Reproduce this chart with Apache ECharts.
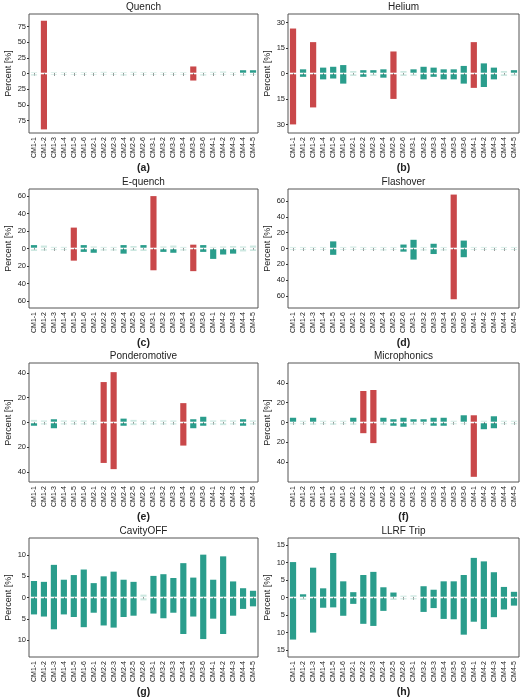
<!DOCTYPE html>
<html><head><meta charset="utf-8">
<script src="https://cdn.jsdelivr.net/npm/echarts@6/dist/echarts.min.js"></script>
<style>html,body{margin:0;padding:0;background:#fff}#c{width:524px;height:700px}</style>
</head><body><div id="c"></div>
<script>
const categories=['CM1-1','CM1-2','CM1-3','CM1-4','CM1-5','CM1-6','CM2-1','CM2-2','CM2-3','CM2-4','CM2-5','CM2-6','CM3-1','CM3-2','CM3-3','CM3-4','CM3-5','CM3-6','CM4-1','CM4-2','CM4-3','CM4-4','CM4-5'];
const titles=['Quench','Helium','E-quench','Flashover','Ponderomotive','Microphonics','CavityOFF','LLRF Trip'];
const letters=['(a)','(b)','(c)','(d)','(e)','(f)','(g)','(h)'];
const ranges=[95,35,68,75,48,60,14,17];
const intervals=[25,15,20,20,20,20,5,5];
const quenchUp=[1,83,1,1,1,1,1,1.5,1,1,1.5,1,1,1,1,1,10,1,1.5,2,1,4,4];
const quenchDown=[2,88,1,1,1,1,1,1,1,2,1,1,1,1,1,1,10,2,1,1,1,2,1];
const heliumUp=[26,2,18,3,3.5,4.5,1,1.5,1.5,2,12.5,1,2,3.5,3,2,2,4,18,5.5,3,1,1.5];
const heliumDown=[29.5,1.5,19.5,3,2.5,5.5,1,1.5,1,2,14.5,1,1,3,1.5,3,3,5.5,8,7.5,3,1,1];
const equenchUp=[3,2.5,1,1,23,3,1.5,1,1,3,2,3,59,1.5,2.5,1,3.5,3,1,1.5,2,1.5,2.5];
const equenchDown=[2,1.5,1,1,13,3,4,1.5,1.5,5,2,2,24,3,4,1.5,25,3,11,6,5,2.5,2];
const flashUp=[1,1,1,1,8,1,1.5,1,1,1,1,4,10,1,5,1,67,9,1,1,1,1,1];
const flashDown=[1,1,1,1,7,1,1,1,1,1.5,1,3,13,1.5,6,1.5,63,10,1,1,1,1,1];
const pondUp=[1.5,1,2,1,1,1,1,32,40,2.5,1.5,1,1,1,1,15,2,4,1,1.5,1,2,1];
const pondDown=[2,1,4,1,1,1,1,32,37,2,1.5,1,1,1,1,18,4,2,1,1.5,1,2,1];
const microUp=[4,1,4,1,1,1,4,31,32,4,2.5,4,2.5,2.5,4,4,1,6.5,6.5,1,5.5,1,1];
const microDown=[1,1,1.5,1,1.5,1,1.5,10,20,1.5,2.5,3.5,1.5,1,2.5,2.5,1,1,54,6,5,1,1];
const cavUp=[3.7,3.5,7.5,4,5.1,6.4,3.2,4.8,5.9,4,3.5,0.5,4.9,5.3,4.4,7.9,4.5,9.9,4,9.5,3.6,2,1.4];
const cavDown=[3.8,4.3,7.3,3.8,4.4,6.8,3.4,6.4,6.9,4.4,4.1,0.5,3.6,4.7,3.4,8.4,4.3,9.6,4.8,8.4,4.1,2.5,1.9];
const llrfUp=[9.9,0.7,8.3,2.4,12.5,4.4,1.3,6.2,7.1,2.7,1.2,0.3,0.4,3,2,4.4,4.4,6.2,11.1,10.1,7,2.8,1.4];
const llrfDown=[11.8,0.5,9.8,2.7,2.6,5,1.6,7.3,7.9,3.6,0.5,0.3,0.3,3.9,2.8,5.9,6,10.4,6.7,8.8,5.4,3.2,2.1];
const highlighted=[['CM1-2','CM3-5'],['CM1-1','CM1-3','CM2-5','CM4-1'],['CM1-5','CM3-1','CM3-5'],['CM3-5'],['CM2-2','CM2-3','CM3-4'],['CM2-2','CM2-3','CM4-1'],[],[]];
const ups=[quenchUp,heliumUp,equenchUp,flashUp,pondUp,microUp,cavUp,llrfUp];
const downs=[quenchDown,heliumDown,equenchDown,flashDown,pondDown,microDown,cavDown,llrfDown];

const RED='#c9484a',TEAL='#2a9d8c',FAINT='#cde8e1';
const chart=echarts.init(document.getElementById('c'));
const grids=[],xAxes=[],yAxes=[],series=[],graphics=[];
const lefts=[29,288],widths=[229,231],tops=[14,189,363,538],H=119;
for(let p=0;p<8;p++){
  const col=p%2,row=Math.floor(p/2),R=ranges[p],gap=R*0.013,iv=intervals[p];
  const ticks=[];
  for(let k=-Math.floor(R/iv);k<=Math.floor(R/iv);k++){const v=k*iv;if(Math.abs(v)<0.95*R)ticks.push(v);}
  grids.push({left:lefts[col],top:tops[row],width:widths[col],height:H,show:true,borderColor:'#555',borderWidth:1,backgroundColor:'#fff'});
  xAxes.push({gridIndex:p,type:'category',data:categories,axisLine:{show:false},
    axisTick:{show:true,alignWithLabel:true,length:2,lineStyle:{color:'#333'}},
    axisLabel:{rotate:90,fontSize:7,color:'#222',margin:4,interval:0,fontFamily:'Liberation Sans'}});
  yAxes.push({gridIndex:p,type:'value',min:-R,max:R,splitLine:{show:false},
    axisLine:{show:false},axisTick:{show:true,length:2,lineStyle:{color:'#333'},customValues:ticks},
    name:'Percent [%]',nameLocation:'middle',nameGap:16,nameTextStyle:{fontSize:9,color:'#222',fontFamily:'Liberation Sans'},
    axisLabel:{fontSize:7.5,color:'#222',margin:3,fontFamily:'Liberation Sans',customValues:ticks,
      formatter:v=>String(Math.abs(v))}});
  const hl=highlighted[p];
  const mk=(arr,sign)=>arr.map((v,i)=>({value:sign*v,itemStyle:{color:hl.includes(categories[i])?RED:(v/R<0.04?FAINT:TEAL)}}));
  const base={type:'bar',xAxisIndex:p,yAxisIndex:p,barWidth:'62%',silent:true};
  series.push(Object.assign({},base,{stack:'s'+p,data:categories.map(()=>gap),itemStyle:{color:'transparent'}}));
  series.push(Object.assign({},base,{stack:'s'+p,data:categories.map(()=>-gap),itemStyle:{color:'transparent'}}));
  series.push(Object.assign({},base,{stack:'s'+p,data:mk(ups[p],1)}));
  series.push(Object.assign({},base,{stack:'s'+p,data:mk(downs[p],-1)}));
  const cx=lefts[col]+widths[col]/2;
  graphics.push({type:'text',x:cx,y:tops[row]-7,style:{text:titles[p],fontSize:10,fill:'#222',fontFamily:'Liberation Sans',align:'center',verticalAlign:'middle'}});
  graphics.push({type:'text',x:cx,y:tops[row]+H+35,style:{text:letters[p],fontSize:10.5,fontWeight:'bold',fill:'#222',fontFamily:'Liberation Sans',align:'center',verticalAlign:'middle'}});
}
chart.setOption({animation:false,grid:grids,xAxis:xAxes,yAxis:yAxes,series:series,graphic:graphics});
</script></body></html>
